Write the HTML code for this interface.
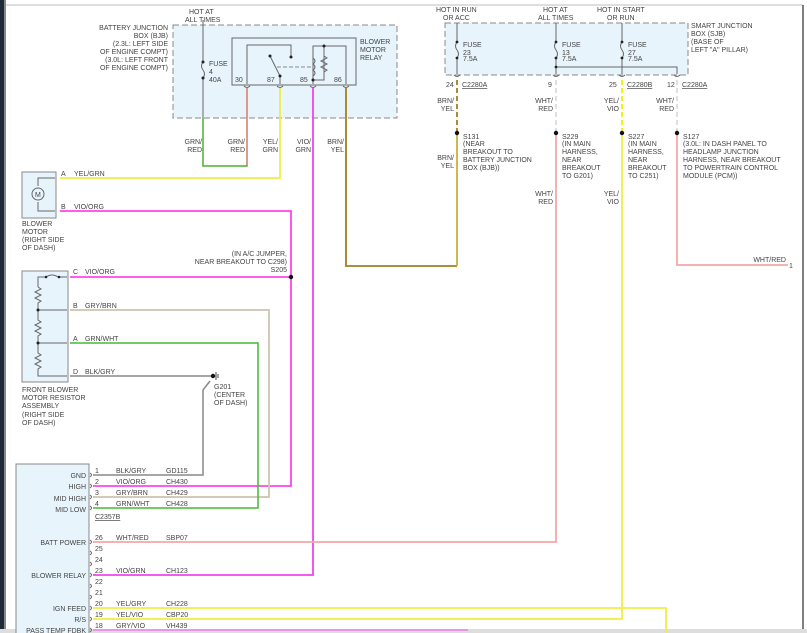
<!DOCTYPE html>
<html><head><meta charset="utf-8"><style>
html,body{margin:0;padding:0;background:#fff;width:807px;height:633px;overflow:hidden}
svg text{font-family:"Liberation Sans",sans-serif;font-size:7px;fill:#444}
</style></head><body>
<svg width="807" height="633" viewBox="0 0 807 633" xmlns="http://www.w3.org/2000/svg">
<rect x="0" y="0" width="4" height="633" fill="#1e2a38"/>
<rect x="4" y="0" width="2" height="633" fill="#888"/>
<line x1="6" y1="5" x2="803" y2="5" stroke="#d4d4d4" stroke-width="1.5"/>
<line x1="803" y1="5" x2="803" y2="633" stroke="#555" stroke-width="1.5"/>
<rect x="0" y="629" width="807" height="4" fill="#ddd"/>

<!-- BJB -->
<rect x="173" y="25" width="224" height="93" fill="#e8f4fc" stroke="#888" stroke-dasharray="6,3"/>
<text x="189" y="14">HOT AT</text><text x="185" y="22">ALL TIMES</text>
<g text-anchor="end"><text x="168" y="30">BATTERY JUNCTION</text><text x="168" y="38">BOX (BJB)</text><text x="168" y="46">(2.3L: LEFT SIDE</text><text x="168" y="54">OF ENGINE COMPT)</text><text x="168" y="62">(3.0L: LEFT FRONT</text><text x="168" y="70">OF ENGINE COMPT)</text></g>
<line x1="203" y1="20" x2="203" y2="62" stroke="#666"/>
<path d="M203 62 q-3 4 0 8 q3 4 0 8" fill="none" stroke="#666"/>
<line x1="203" y1="78" x2="203" y2="118" stroke="#666"/>
<circle cx="203" cy="62" r="1.5" fill="#222"/><circle cx="203" cy="78" r="1.5" fill="#222"/>
<text x="209" y="66">FUSE</text><text x="209" y="74">4</text><text x="209" y="82">40A</text>
<rect x="232" y="38" width="124" height="47" fill="none" stroke="#666"/>
<text x="360" y="44">BLOWER</text><text x="360" y="52">MOTOR</text><text x="360" y="60">RELAY</text>
<path d="M247 84 V45 H291 V57" fill="none" stroke="#666"/><circle cx="291" cy="57" r="1.5" fill="#222"/>
<path d="M270 56 L280 76 V84" fill="none" stroke="#666"/><circle cx="270" cy="56" r="1.5" fill="#222"/><circle cx="280" cy="76" r="1.5" fill="#222"/>
<line x1="277" y1="67" x2="311" y2="67" stroke="#888" stroke-dasharray="4,2"/>
<path d="M313 84 V46 H346 V84" fill="none" stroke="#666"/>
<path d="M324 46 V80 H313" fill="none" stroke="#666"/><circle cx="324" cy="46" r="1.5" fill="#222"/><circle cx="313" cy="80" r="1.5" fill="#222"/>
<path d="M313 58 q4 3 0 6 q4 3 0 6 q4 3 0 6" fill="none" stroke="#666"/>
<path d="M324 56 l3 2 l-6 3 l6 3 l-6 3 l6 3 l-3 2" fill="none" stroke="#666"/>
<text x="235" y="82">30</text><text x="267" y="82">87</text><text x="300" y="82">85</text><text x="334" y="82">86</text>
<g fill="none" stroke="#666"><path d="M244 86 q3 3 6 0 M277 86 q3 3 6 0 M310 86 q3 3 6 0 M343 86 q3 3 6 0"/></g>

<!-- BJB wires -->
<path d="M203 118 V166 H247 V88" fill="none" stroke="#4caf30" stroke-width="1.5"/>
<path d="M247 88 V165" fill="none" stroke="#e88" stroke-width="1.5"/>
<path d="M280 88 V178 H60" fill="none" stroke="#ee4" stroke-width="1.8"/>
<path d="M313 88 V575 H93" fill="none" stroke="#e4e" stroke-width="1.8"/>
<path d="M346 88 V266 H457" fill="none" stroke="#a08020" stroke-width="1.8"/>
<path d="M60 211 H291 V486 H93" fill="none" stroke="#f4e" stroke-width="1.8"/>
<g text-anchor="end"><text x="202" y="144">GRN/</text><text x="202" y="152">RED</text><text x="245" y="144">GRN/</text><text x="245" y="152">RED</text><text x="278" y="144">YEL/</text><text x="278" y="152">GRN</text><text x="311" y="144">VIO/</text><text x="311" y="152">GRN</text><text x="344" y="144">BRN/</text><text x="344" y="152">YEL</text></g>

<!-- Motor -->
<rect x="22" y="172" width="34" height="46" fill="#e8f4fc" stroke="#888"/>
<path d="M55 178 H38 V186 M38 202 V211 H55" fill="none" stroke="#666"/>
<circle cx="38" cy="194" r="6" fill="none" stroke="#666"/><text x="35" y="197">M</text>
<text x="61" y="176">A</text><text x="74" y="176">YEL/GRN</text>
<text x="61" y="209">B</text><text x="74" y="209">VIO/ORG</text>
<text x="22" y="226">BLOWER</text><text x="22" y="234">MOTOR</text><text x="22" y="242">(RIGHT SIDE</text><text x="22" y="250">OF DASH)</text>

<!-- Resistor assembly -->
<rect x="22" y="271" width="46" height="111" fill="#e8f4fc" stroke="#888"/>
<path d="M38 287 V277 H46 q6 -4 12 0 H67" fill="none" stroke="#666"/><circle cx="46" cy="277" r="1.3" fill="#222"/><circle cx="59" cy="277" r="1.3" fill="#222"/>
<path d="M38 287 l3 2 l-6 3 l6 3 l-6 3 l6 3 l-3 2 V310 H67 M38 310 V320 l3 2 l-6 3 l6 3 l-6 3 l6 3 l-3 2 V343 H67 M38 343 V353 l3 2 l-6 3 l6 3 l-6 3 l6 3 l-3 2 V376 H67" fill="none" stroke="#666"/>
<circle cx="38" cy="310" r="1.5" fill="#222"/><circle cx="38" cy="343" r="1.5" fill="#222"/>
<text x="22" y="392">FRONT BLOWER</text><text x="22" y="400">MOTOR RESISTOR</text><text x="22" y="408">ASSEMBLY</text><text x="22" y="417">(RIGHT SIDE</text><text x="22" y="425">OF DASH)</text>
<path d="M70 277 H291" stroke="#f4e" stroke-width="1.8"/>
<circle cx="291" cy="277" r="2.2" fill="#111"/>
<g text-anchor="end"><text x="287" y="256">(IN A/C JUMPER,</text><text x="287" y="264">NEAR BREAKOUT TO C298)</text><text x="287" y="272">S205</text></g>
<path d="M70 310 H269 V497 H93" fill="none" stroke="#ccc4b0" stroke-width="1.8"/>
<path d="M70 343 H258 V508 H93" fill="none" stroke="#4b3" stroke-width="1.5"/>
<path d="M70 376 H213" fill="none" stroke="#888" stroke-width="1.5"/>
<path d="M210 381 L203 390 V475 H93" fill="none" stroke="#888" stroke-width="1.5"/>
<circle cx="213" cy="376" r="2.2" fill="#111"/><path d="M216 372 V380 M218 374 V378" stroke="#444"/>
<text x="73" y="274">C</text><text x="85" y="274">VIO/ORG</text>
<text x="73" y="308">B</text><text x="85" y="308">GRY/BRN</text>
<text x="73" y="341">A</text><text x="85" y="341">GRN/WHT</text>
<text x="73" y="374">D</text><text x="85" y="374">BLK/GRY</text>
<text x="214" y="389">G201</text><text x="214" y="397">(CENTER</text><text x="214" y="405">OF DASH)</text>

<!-- SJB -->
<rect x="445" y="23" width="243" height="52" fill="#e8f4fc" stroke="#888" stroke-dasharray="6,3"/>
<text x="436" y="12">HOT IN RUN</text><text x="443" y="20">OR ACC</text>
<text x="543" y="12">HOT AT</text><text x="538" y="20">ALL TIMES</text>
<text x="597" y="12">HOT IN START</text><text x="607" y="20">OR RUN</text>
<text x="691" y="28">SMART JUNCTION</text><text x="691" y="36">BOX (SJB)</text><text x="691" y="44">(BASE OF</text><text x="691" y="52">LEFT "A" PILLAR)</text>
<g stroke="#666" fill="none">
<path d="M457 23 V42 q-3 4 0 8 q3 4 0 8 V74"/><path d="M556 23 V42 q-3 4 0 8 q3 4 0 8 V74"/><path d="M622 23 V42 q-3 4 0 8 q3 4 0 8 V74"/>
<path d="M556 67 H677 V74"/>
<path d="M454 75 q3 3 6 0 M553 75 q3 3 6 0 M619 75 q3 3 6 0 M674 75 q3 3 6 0"/>
</g>
<g fill="#222"><circle cx="457" cy="42" r="1.4"/><circle cx="457" cy="58" r="1.4"/><circle cx="556" cy="42" r="1.4"/><circle cx="556" cy="58" r="1.4"/><circle cx="622" cy="42" r="1.4"/><circle cx="622" cy="58" r="1.4"/><circle cx="556" cy="67" r="1.4"/></g>
<text x="463" y="47">FUSE</text><text x="463" y="55">23</text><text x="463" y="61">7.5A</text>
<text x="562" y="47">FUSE</text><text x="562" y="55">13</text><text x="562" y="61">7.5A</text>
<text x="628" y="47">FUSE</text><text x="628" y="55">27</text><text x="628" y="61">7.5A</text>
<text x="446" y="87">24</text><text x="462" y="87" text-decoration="underline">C2280A</text>
<text x="548" y="87">9</text>
<text x="609" y="87">25</text><text x="627" y="87" text-decoration="underline">C2280B</text>
<text x="667" y="87">12</text><text x="682" y="87" text-decoration="underline">C2280A</text>
<g stroke-width="1.8" fill="none">
<path d="M457 80 V133" stroke="#a08020" stroke-dasharray="5,3"/>
<path d="M556 80 V133" stroke="#ddd" stroke-dasharray="5,3"/>
<path d="M622 80 V133" stroke="#ee0" stroke-dasharray="5,3"/>
<path d="M677 80 V133" stroke="#ddd" stroke-dasharray="5,3"/>
<path d="M457 133 V266" stroke="#c8b040"/>
<path d="M556 133 V542 H93" stroke="#f4a8a8"/>
<path d="M622 133 V619 H93" stroke="#ee4"/>
<path d="M677 133 V265 H788" stroke="#f4a8a8"/>
<path d="M93 608 H666 V633" stroke="#ee4"/>
<path d="M93 630 H468" stroke="#e8e"/>
</g>
<g fill="#111"><circle cx="457" cy="133" r="2.2"/><circle cx="556" cy="133" r="2.2"/><circle cx="622" cy="133" r="2.2"/><circle cx="677" cy="133" r="2.2"/></g>
<g text-anchor="end"><text x="454" y="103">BRN/</text><text x="454" y="111">YEL</text><text x="553" y="103">WHT/</text><text x="553" y="111">RED</text><text x="619" y="103">YEL/</text><text x="619" y="111">VIO</text><text x="674" y="103">WHT/</text><text x="674" y="111">RED</text>
<text x="454" y="160">BRN/</text><text x="454" y="168">YEL</text><text x="553" y="196">WHT/</text><text x="553" y="204">RED</text><text x="619" y="196">YEL/</text><text x="619" y="204">VIO</text>
<text x="786" y="262">WHT/RED</text></g>
<text x="789" y="268">1</text>
<text x="463" y="139">S131</text><text x="463" y="146">(NEAR</text><text x="463" y="154">BREAKOUT TO</text><text x="463" y="162">BATTERY JUNCTION</text><text x="463" y="170">BOX (BJB))</text>
<text x="562" y="139">S229</text><text x="562" y="146">(IN MAIN</text><text x="562" y="154">HARNESS,</text><text x="562" y="162">NEAR</text><text x="562" y="170">BREAKOUT</text><text x="562" y="178">TO G201)</text>
<text x="628" y="139">S227</text><text x="628" y="146">(IN MAIN</text><text x="628" y="154">HARNESS,</text><text x="628" y="162">NEAR</text><text x="628" y="170">BREAKOUT</text><text x="628" y="178">TO C251)</text>
<text x="683" y="139">S127</text><text x="683" y="146">(3.0L: IN DASH PANEL TO</text><text x="683" y="154">HEADLAMP JUNCTION</text><text x="683" y="162">HARNESS, NEAR BREAKOUT</text><text x="683" y="170">TO POWERTRAIN CONTROL</text><text x="683" y="178">MODULE (PCM))</text>

<!-- Module -->
<rect x="16" y="464" width="73" height="172" fill="#e8f4fc" stroke="#888"/>
<g text-anchor="end"><text x="86" y="478">GND</text><text x="86" y="489">HIGH</text><text x="86" y="501">MID HIGH</text><text x="86" y="512">MID LOW</text><text x="86" y="545">BATT POWER</text><text x="86" y="578">BLOWER RELAY</text><text x="86" y="611">IGN FEED</text><text x="86" y="622">R/S</text><text x="86" y="633">PASS TEMP FDBK</text></g>
<g fill="none" stroke="#666">
<path d="M90 473 q3 2 0 4 M90 484 q3 2 0 4 M90 495 q3 2 0 4 M90 506 q3 2 0 4 M90 540 q3 2 0 4 M90 551 q3 2 0 4 M90 562 q3 2 0 4 M90 573 q3 2 0 4 M90 584 q3 2 0 4 M90 595 q3 2 0 4 M90 606 q3 2 0 4 M90 617 q3 2 0 4 M90 628 q3 2 0 4"/>
</g>
<text x="95" y="473">1</text><text x="116" y="473">BLK/GRY</text><text x="166" y="473">GD115</text>
<text x="95" y="484">2</text><text x="116" y="484">VIO/ORG</text><text x="166" y="484">CH430</text>
<text x="95" y="495">3</text><text x="116" y="495">GRY/BRN</text><text x="166" y="495">CH429</text>
<text x="95" y="506">4</text><text x="116" y="506">GRN/WHT</text><text x="166" y="506">CH428</text>
<text x="95" y="519" text-decoration="underline">C2357B</text>
<text x="95" y="540">26</text><text x="116" y="540">WHT/RED</text><text x="166" y="540">SBP07</text>
<text x="95" y="551">25</text><text x="95" y="562">24</text>
<text x="95" y="573">23</text><text x="116" y="573">VIO/GRN</text><text x="166" y="573">CH123</text>
<text x="95" y="584">22</text><text x="95" y="595">21</text>
<text x="95" y="606">20</text><text x="116" y="606">YEL/GRY</text><text x="166" y="606">CH228</text>
<text x="95" y="617">19</text><text x="116" y="617">YEL/VIO</text><text x="166" y="617">CBP20</text>
<text x="95" y="628">18</text><text x="116" y="628">GRY/VIO</text><text x="166" y="628">VH439</text>
</svg>
</body></html>
